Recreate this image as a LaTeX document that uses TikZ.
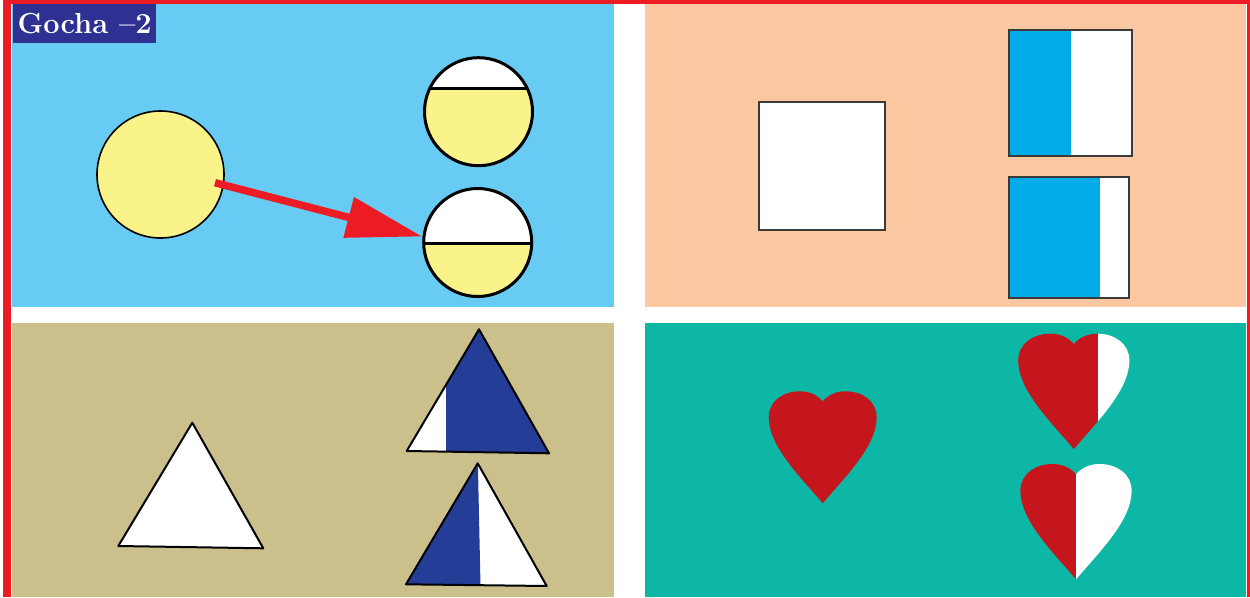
\documentclass[tikz,border=0pt]{standalone}
\usetikzlibrary{arrows.meta,calc}
\definecolor{framered}{HTML}{ED1C24}
\definecolor{sky}{HTML}{67CBF3}
\definecolor{peach}{HTML}{FBC8A1}
\definecolor{tan}{HTML}{CBBF8C}
\definecolor{teal}{HTML}{0DB7A5}
\definecolor{pale}{HTML}{F9F38A}
\definecolor{cyanb}{HTML}{00ABE8}
\definecolor{navy}{HTML}{243D96}
\definecolor{hred}{HTML}{C5161D}
\definecolor{titleblue}{HTML}{2E3192}
\definecolor{sqline}{HTML}{3A3A3A}
\tikzset{
  ball/.style={circle, draw=black, line width=3pt, fill=pale, inner sep=0pt, minimum size=108pt},
  halfcap/.style={path picture={
      \fill[white] ([yshift=20pt]path picture bounding box.north west) rectangle ([yshift=#1]path picture bounding box.east);
      \draw[line width=3pt] ([yshift=#1]path picture bounding box.west) -- ([yshift=#1]path picture bounding box.east);}},
  sq/.style={rectangle, draw=sqline, line width=2pt, fill=white, inner sep=0pt},
  bluepart/.style={path picture={
      \fill[cyanb] (path picture bounding box.north west) rectangle ([xshift=#1]path picture bounding box.south west);}},
  tri/.style={draw=black, line width=2pt, line join=round},
  heart/.pic={
    \begin{scope}
      \clip (0,0) .. controls (-6,-7) and (-14,-10) .. (-23,-10)
        .. controls (-40,-10) and (-54,0) .. (-54,16)
        .. controls (-54,45) and (-22,76) .. (0,102)
        .. controls (22,76) and (54,45) .. (54,16)
        .. controls (54,0) and (40,-10) .. (23,-10)
        .. controls (14,-10) and (6,-7) .. (0,0) -- cycle;
      \fill[hred] (-60,-15) rectangle (#1,110);
      \fill[white] (#1,-15) rectangle (60,110);
    \end{scope}
  }
}
\begin{document}
\begin{tikzpicture}[x=1pt,y=-1pt]
\useasboundingbox (0,0) rectangle (1250,597);
\clip (0,0) rectangle (1250,597);
\fill[white] (0,0) rectangle (1250,597);
% frame
\fill[framered] (3,0) rectangle (10.5,597);
\fill[framered] (3,0) rectangle (1250,4);
\fill[framered] (1246.5,0) rectangle (1250,597);
% panels
\fill[sky] (12,4) rectangle (614,307);
\fill[peach] (645,4) rectangle (1246,307);
\fill[tan] (12,323) rectangle (614,597);
\fill[teal] (645,323) rectangle (1246,597);
% title
\node[anchor=north west, fill=titleblue, text=white, inner sep=0pt, minimum width=143pt, minimum height=39pt,
      font=\fontsize{29}{29}\selectfont\bfseries] (title) at (13,4) {Gocha --2};
% circles
\node[ball, line width=1.6pt, minimum size=127pt] (c1) at (160.5,174.5) {};
\node[ball, halfcap=23.4pt] (c2) at (478.5,111.7) {};
\node[ball, halfcap=-0.8pt] (c3) at (477.7,242.5) {};
\coordinate (astart) at (215,182.7);
\draw[framered, line width=7.5pt, -{Triangle[length=76pt,width=40pt]}] (astart) -- ([yshift=6pt]c3.west);
% squares
\node[sq, minimum width=126pt, minimum height=128pt] (s1) at (822.3,166.2) {};
\node[sq, bluepart=62pt, minimum width=122.4pt, minimum height=126pt] (s2) at (1070.5,93) {};
\node[sq, bluepart=90.7pt, minimum width=120pt, minimum height=120.4pt] (s3) at (1069.3,237.5) {};
% triangles
\fill[white] (192.3,422.7) -- (118.3,546) -- (263.3,548.3) -- cycle;
\draw[tri] (192.3,422.7) -- (118.3,546) -- (263.3,548.3) -- cycle;
\begin{scope}
  \clip (479,329.3) -- (406.7,451) -- (549,453.3) -- cycle;
  \fill[navy] (400,320) rectangle (560,460);
  \fill[white] (400,320) rectangle (446,460);
\end{scope}
\draw[tri] (479,329.3) -- (406.7,451) -- (549,453.3) -- cycle;
\begin{scope}
  \clip (477.7,463.3) -- (406,584.3) -- (546.7,586) -- cycle;
  \fill[white] (400,455) rectangle (560,595);
  \fill[navy] (477.7,455) -- (480.7,595) -- (400,595) -- (400,455) -- cycle;
\end{scope}
\draw[tri] (477.7,463.3) -- (406,584.3) -- (546.7,586) -- cycle;
% hearts
\pic (h1) at (822.7,401.3) {heart=70};
\pic[scale=1.03] (h2) at (1073.8,344) {heart=23.7};
\pic[scale=1.03] (h3) at (1076,474.3) {heart=0};
\end{tikzpicture}
\end{document}
